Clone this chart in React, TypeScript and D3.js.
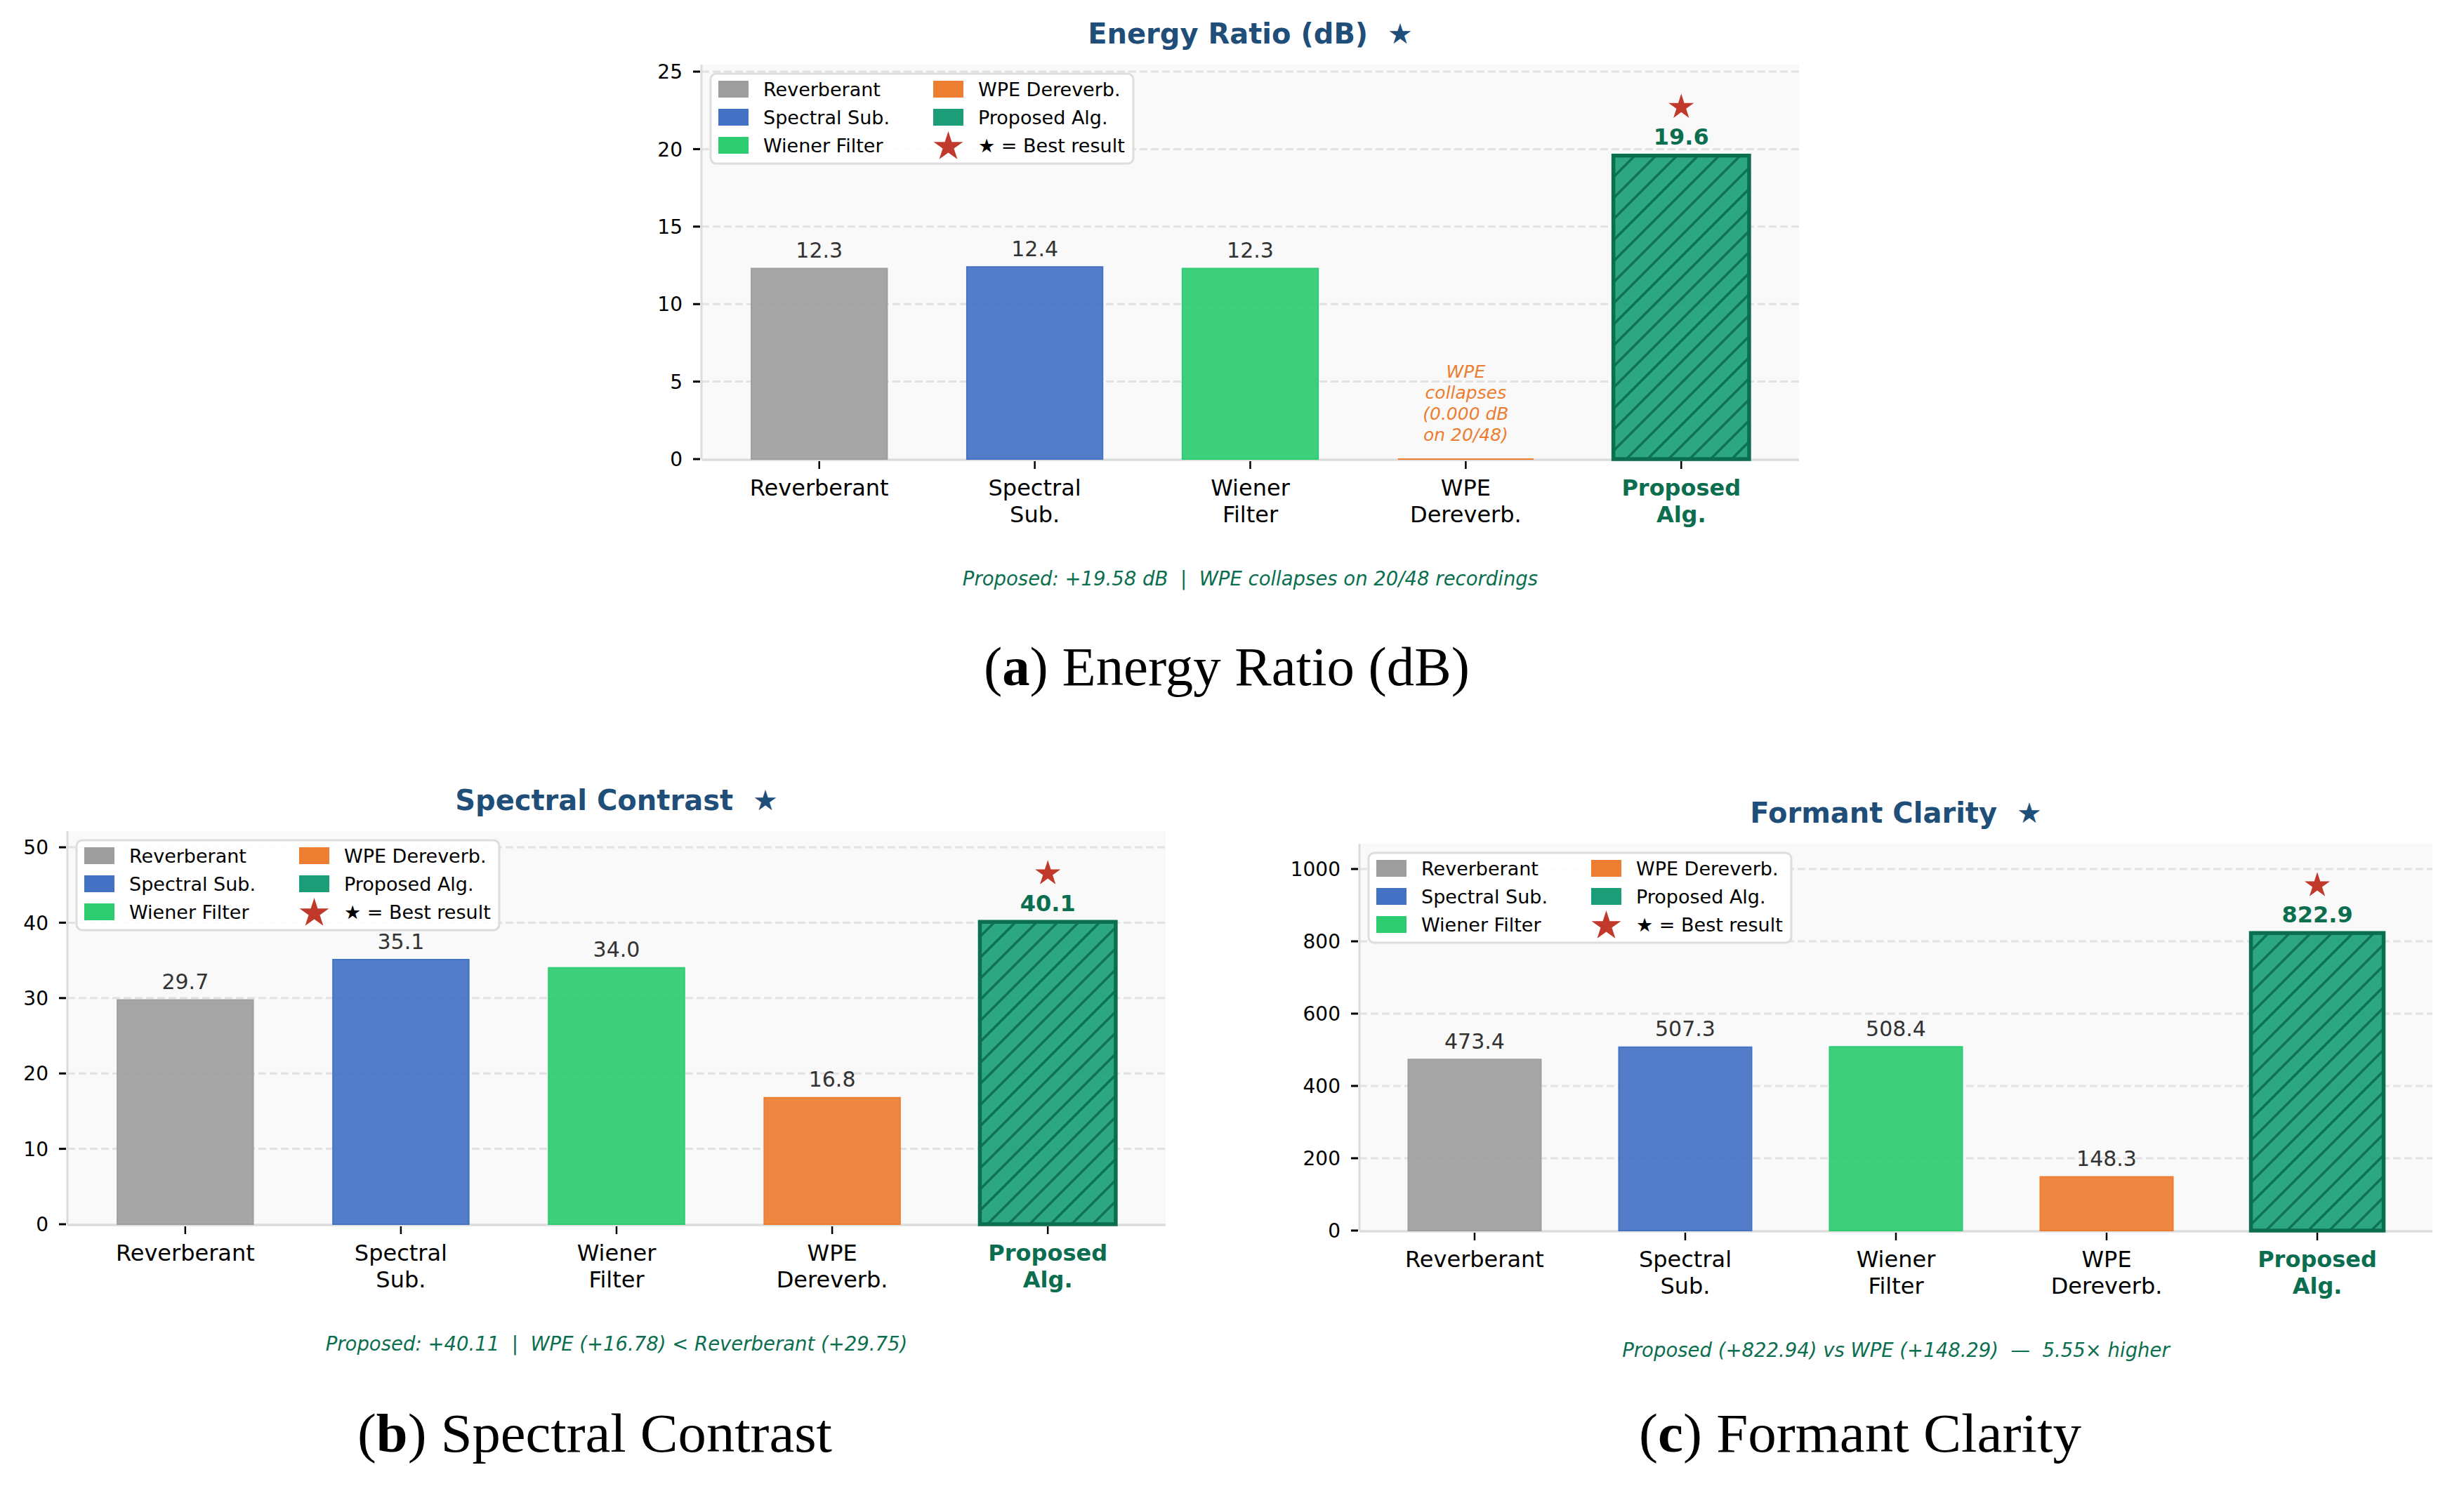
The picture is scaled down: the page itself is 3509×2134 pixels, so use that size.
import React, { useEffect, useRef } from 'react';
import * as d3 from 'd3';

// ---- data ----
const methods = ['Reverberant', 'Spectral Sub.', 'Wiener Filter', 'WPE Dereverb.', 'Proposed Alg.'];
const tickLines = [['Reverberant'], ['Spectral', 'Sub.'], ['Wiener', 'Filter'], ['WPE', 'Dereverb.'], ['Proposed', 'Alg.']];
const barColors = ['#9e9e9e', '#4472c4', '#2ecc71', '#ed7d31', '#1b9e77'];

const energyRatio = [12.3, 12.4, 12.3, 0.0, 19.58];
const spectralContrast = [29.746, 35.1, 34.0, 16.78, 40.11];
const formantClarity = [473.4, 507.3, 508.4, 148.29, 822.94];

const energyTicks = [0, 5, 10, 15, 20, 25];
const contrastTicks = [0, 10, 20, 30, 40, 50];
const clarityTicks = [0, 200, 400, 600, 800, 1000];

const titles = ['Energy Ratio (dB)', 'Spectral Contrast', 'Formant Clarity'];
const footnotes = [
  'Proposed: +19.58 dB  |  WPE collapses on 20/48 recordings',
  'Proposed: +40.11  |  WPE (+16.78) < Reverberant (+29.75)',
  'Proposed (+822.94) vs WPE (+148.29)  \u2014  5.55\u00d7 higher',
];
const captionLetters = ['a', 'b', 'c'];
const wpeNote = ['WPE', 'collapses', '(0.000 dB', 'on 20/48)'];

const FONT = 'DejaVu Sans, sans-serif';
const SERIF = 'Liberation Serif, Times New Roman, serif';
const BLUE = '#1f4e79';
const DARK_GREEN = '#0b6e4f';
const STAR_RED = '#c0392b';

type Panel = {
  values: number[];
  ticks: number[];
  title: string;
  footnote: string;
  letter: string;
  box: { left: number; right: number; top: number; bottom: number };
  captionX: number;
  captionY: number;
  captionW: number;
};

const panels: Panel[] = [
  { values: energyRatio, ticks: energyTicks, title: titles[0], footnote: footnotes[0], letter: captionLetters[0],
    box: { left: 999, right: 2562, top: 92, bottom: 654 }, captionX: 1747, captionY: 976, captionW: 692 },
  { values: spectralContrast, ticks: contrastTicks, title: titles[1], footnote: footnotes[1], letter: captionLetters[1],
    box: { left: 96, right: 1660, top: 1184, bottom: 1744 }, captionX: 847, captionY: 2068, captionW: 676 },
  { values: formantClarity, ticks: clarityTicks, title: titles[2], footnote: footnotes[2], letter: captionLetters[2],
    box: { left: 1936, right: 3464, top: 1202, bottom: 1753 }, captionX: 2649, captionY: 2068, captionW: 630 },
];

const starPath = (cx: number, cy: number, r: number) => {
  const pts = d3.range(10).map((i) => {
    const rr = i % 2 === 0 ? r : r * 0.382;
    const a = (i * Math.PI) / 5 - Math.PI / 2;
    return [cx + rr * Math.cos(a), cy + rr * Math.sin(a)];
  });
  return 'M' + pts.map((p) => p.join(',')).join('L') + 'Z';
};

const drawLegend = (g: any, x0: number, y0: number) => {
  const lg = g.append('g').attr('transform', `translate(${x0},${y0})`);
  lg.append('rect')
    .attr('width', 602).attr('height', 128).attr('rx', 8)
    .attr('fill', '#ffffff').attr('fill-opacity', 0.9)
    .attr('stroke', '#dddddd').attr('stroke-width', 3);

  const entries = methods.map((m, i) => ({ label: m, color: barColors[i], star: false }))
    .concat([{ label: '\u2605 = Best result', color: STAR_RED, star: true }]);

  entries.forEach((e, i) => {
    const col = Math.floor(i / 3);
    const row = i % 3;
    const px = 11 + col * 306;
    const cy = 22 + row * 40;
    if (e.star) {
      lg.append('path').attr('d', starPath(px + 21.5, cy + 2, 22)).attr('fill', e.color);
    } else {
      lg.append('rect').attr('x', px).attr('y', cy - 12).attr('width', 43).attr('height', 24).attr('fill', e.color);
    }
    lg.append('text')
      .attr('x', px + 64).attr('y', cy).attr('dy', '0.36em')
      .attr('font-family', FONT).attr('font-size', 27).attr('fill', '#000')
      .text(e.label);
  });
};

const drawPanel = (svg: any, p: Panel) => {
  const { left, right, top, bottom } = p.box;
  const vals = p.values;
  const yMax = (d3.max(vals) as number) * 1.3;
  const best = d3.maxIndex(vals);

  const x = d3.scaleBand<string>().domain(methods).range([left, right]).paddingInner(0.37).paddingOuter(0.2315);
  const y = d3.scaleLinear().domain([0, yMax]).range([bottom, top]);
  const g = svg.append('g');

  // axes background
  g.append('rect')
    .attr('x', left).attr('y', top).attr('width', right - left).attr('height', bottom - top)
    .attr('fill', '#f9f9f9');

  // dashed horizontal grid
  g.selectAll('.grid').data(p.ticks.filter((t) => t > 0)).enter().append('line')
    .attr('x1', left).attr('x2', right)
    .attr('y1', (d: number) => y(d)).attr('y2', (d: number) => y(d))
    .attr('stroke', '#e2e2e2').attr('stroke-width', 3).attr('stroke-dasharray', '11,5');

  // spines
  g.append('line').attr('x1', left).attr('x2', left).attr('y1', top).attr('y2', bottom)
    .attr('stroke', '#dcdcdc').attr('stroke-width', 3);
  g.append('line').attr('x1', left).attr('x2', right).attr('y1', bottom + 1).attr('y2', bottom + 1)
    .attr('stroke', '#dcdcdc').attr('stroke-width', 3.5);

  // plain bars (path so a zero-height bar still shows its edge)
  const bw = x.bandwidth();
  vals.forEach((v, i) => {
    const x0 = x(methods[i]) as number;
    if (i === best) return;
    g.append('path')
      .attr('d', `M${x0},${y(0)}V${y(v)}H${x0 + bw}V${y(0)}Z`)
      .attr('fill', barColors[i]).attr('fill-opacity', 0.92)
      .attr('stroke', barColors[i]).attr('stroke-width', 2);
  });

  // best bar: hatched with dark edge
  const bx = x(methods[best]) as number;
  const bv = vals[best];
  g.append('rect').attr('x', bx).attr('y', y(bv)).attr('width', bw).attr('height', y(0) - y(bv))
    .attr('fill', barColors[best]).attr('fill-opacity', 0.92);
  g.append('rect').attr('x', bx).attr('y', y(bv)).attr('width', bw).attr('height', y(0) - y(bv))
    .attr('fill', 'url(#hatch)');
  g.append('rect').attr('x', bx).attr('y', y(bv)).attr('width', bw).attr('height', y(0) - y(bv))
    .attr('fill', 'none').attr('stroke', DARK_GREEN).attr('stroke-width', 5.5);

  // value labels
  vals.forEach((v, i) => {
    const cx = (x(methods[i]) as number) + bw / 2;
    if (v === 0) {
      // collapsed WPE annotation
      g.append('text')
        .attr('x', cx).attr('y', y(1.2) - 3 * 30)
        .attr('text-anchor', 'middle').attr('font-family', FONT).attr('font-style', 'italic')
        .attr('font-size', 25).attr('fill', '#ed7d31')
        .selectAll('tspan').data(wpeNote).enter().append('tspan')
        .attr('x', cx).attr('dy', (_: string, k: number) => (k ? 30 : 0))
        .text((d: string) => d);
      return;
    }
    const ly = y(v + yMax * 0.015) - 7;
    g.append('text')
      .attr('x', cx).attr('y', ly).attr('text-anchor', 'middle')
      .attr('font-family', FONT)
      .attr('font-size', i === best ? 32 : 30)
      .attr('font-weight', i === best ? 'bold' : 'normal')
      .attr('fill', i === best ? DARK_GREEN : '#333333')
      .text(v.toFixed(1));
  });

  // best-result star
  g.append('path')
    .attr('d', starPath(bx + bw / 2, y(bv * 1.16), 19))
    .attr('fill', STAR_RED);

  // y ticks
  const yt = g.selectAll('.ytick').data(p.ticks).enter().append('g')
    .attr('transform', (d: number) => `translate(0,${y(d)})`);
  yt.append('line').attr('x1', left - 12).attr('x2', left - 2).attr('stroke', '#000').attr('stroke-width', 3);
  yt.append('text')
    .attr('x', left - 27).attr('dy', '0.36em').attr('text-anchor', 'end')
    .attr('font-family', FONT).attr('font-size', 28).attr('fill', '#000')
    .text((d: number) => String(d));

  // x ticks
  methods.forEach((m, i) => {
    const cx = (x(m) as number) + bw / 2;
    g.append('line').attr('x1', cx).attr('x2', cx).attr('y1', bottom + 3).attr('y2', bottom + 14)
      .attr('stroke', '#000').attr('stroke-width', 2.5);
    const t = g.append('text')
      .attr('x', cx).attr('y', bottom + 52).attr('text-anchor', 'middle')
      .attr('font-family', FONT).attr('font-size', 32)
      .attr('font-weight', i === best ? 'bold' : 'normal')
      .attr('fill', i === best ? DARK_GREEN : '#000');
    tickLines[i].forEach((line, k) => {
      t.append('tspan').attr('x', cx).attr('dy', k ? 38 : 0).text(line);
    });
  });

  // title
  const midX = (left + right) / 2;
  g.append('text')
    .attr('x', midX).attr('y', top - 30).attr('text-anchor', 'middle')
    .attr('font-family', FONT).attr('font-size', 40).attr('font-weight', 'bold').attr('fill', BLUE)
    .style('white-space', 'pre')
    .text(`${p.title}  \u2605`);

  drawLegend(g, left + 13, top + 13);

  // footnote
  g.append('text')
    .attr('x', midX).attr('y', bottom + 180).attr('text-anchor', 'middle')
    .attr('font-family', FONT).attr('font-style', 'italic').attr('font-size', 27.5).attr('fill', DARK_GREEN)
    .style('white-space', 'pre')
    .text(p.footnote);

  // subfigure caption
  const cap = g.append('text')
    .attr('x', p.captionX).attr('y', p.captionY).attr('text-anchor', 'middle')
    .attr('font-family', SERIF).attr('font-size', 78).attr('fill', '#000')
    .attr('textLength', p.captionW).attr('lengthAdjust', 'spacingAndGlyphs');
  cap.append('tspan').text('(');
  cap.append('tspan').attr('font-weight', 'bold').text(p.letter);
  cap.append('tspan').text(') ' + p.title);
};

export default function App() {
  const ref = useRef<SVGSVGElement>(null);

  useEffect(() => {
    document.body.style.margin = '0';
    const svg = d3.select(ref.current);
    svg.selectAll('*').remove();

    const defs = svg.append('defs');
    const pat = defs.append('pattern')
      .attr('id', 'hatch').attr('patternUnits', 'userSpaceOnUse')
      .attr('width', 30).attr('height', 30);
    pat.append('path')
      .attr('d', 'M-7.5,7.5L7.5,-7.5M0,30L30,0M22.5,37.5L37.5,22.5')
      .attr('stroke', DARK_GREEN).attr('stroke-width', 3.5).attr('stroke-opacity', 0.9);

    svg.append('rect').attr('width', 3509).attr('height', 2134).attr('fill', '#ffffff');
    panels.forEach((p) => drawPanel(svg, p));
  }, []);

  return <svg ref={ref} width={3509} height={2134} style={{ display: 'block' }} />;
}
